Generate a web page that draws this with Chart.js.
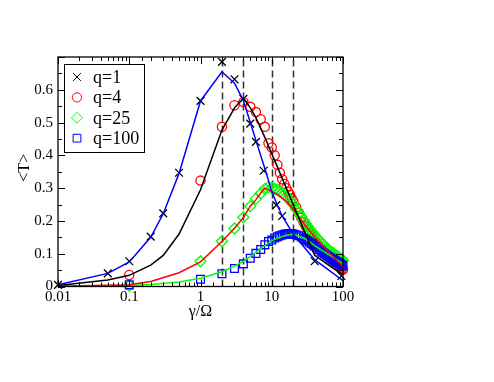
<!DOCTYPE html>
<html>
<head>
<meta charset="utf-8">
<script src="https://cdn.jsdelivr.net/npm/chart.js@4.4.1/dist/chart.umd.min.js"></script>
<style>
  html, body { margin: 0; padding: 0; background: #fff; }
  canvas { display: block; }
</style>
</head>
<body>
<canvas id="chart" width="494" height="382"></canvas>
<script>
// ---- data ----

// simulation points, q=1 (crosses)
const q1X = [0.01, 0.05, 0.1, 0.2, 0.3, 0.5, 1, 2, 3, 4, 5, 6, 7.7, 11.6, 14, 40, 95];
const q1T = [0.005, 0.04, 0.077, 0.152, 0.223, 0.347, 0.566, 0.685, 0.632, 0.572, 0.497, 0.441, 0.353, 0.248, 0.215, 0.077, 0.032];

// simulation points, q=4 / 25 / 100 share the same gamma values
const simX = [0.1,
    1, 2, 3, 4, 5, 6, 7, 8, 9, 10, 11, 12, 13, 14, 15, 16, 17, 18, 19, 20,
    22, 24, 26, 28, 30, 32, 34, 36, 38, 40,
    43, 46, 49, 52, 55, 58, 61, 64, 67, 70, 73, 76, 79, 82, 85, 88, 91, 94, 97, 100];
const q4T = [0.035,
    0.323, 0.487, 0.553, 0.563, 0.548, 0.532, 0.51, 0.487, 0.437, 0.424, 0.40, 0.371, 0.347, 0.327, 0.313, 0.30, 0.289, 0.279, 0.269, 0.26,
    0.242, 0.225, 0.21, 0.196, 0.184, 0.173, 0.164, 0.155, 0.147, 0.14,
    0.131, 0.123, 0.116, 0.11, 0.104, 0.099, 0.094, 0.09, 0.086, 0.082, 0.079, 0.076, 0.073, 0.07, 0.067, 0.064, 0.061, 0.058, 0.055, 0.052];
const q25T = [0.003,
    0.077, 0.138, 0.177, 0.211, 0.245, 0.268, 0.284, 0.298, 0.303, 0.301, 0.298, 0.295, 0.29, 0.285, 0.28, 0.275, 0.268, 0.262, 0.256, 0.25,
    0.236, 0.224, 0.213, 0.202, 0.192, 0.184, 0.176, 0.169, 0.162, 0.156,
    0.148, 0.141, 0.135, 0.129, 0.124, 0.119, 0.115, 0.111, 0.107, 0.104, 0.101, 0.098, 0.095, 0.093, 0.09, 0.088, 0.086, 0.084, 0.082, 0.08];
const q100T = [0.005,
    0.022, 0.039, 0.055, 0.069, 0.086, 0.101, 0.113, 0.127, 0.137, 0.142, 0.148, 0.152, 0.155, 0.157, 0.159, 0.16, 0.161, 0.161, 0.161, 0.16,
    0.158, 0.155, 0.151, 0.147, 0.143, 0.139, 0.135, 0.131, 0.127, 0.123,
    0.118, 0.113, 0.108, 0.104, 0.1, 0.096, 0.093, 0.09, 0.087, 0.084, 0.082, 0.079, 0.077, 0.075, 0.073, 0.071, 0.069, 0.067, 0.065, 0.063];

// theory curves
const blueX = [0.01, 0.05, 0.1, 0.2, 0.3, 0.5, 1, 2, 3, 4, 5, 6, 8, 10, 12, 14, 20, 40, 100];
const blueT = [0.005, 0.04, 0.075, 0.15, 0.222, 0.345, 0.566, 0.655, 0.62, 0.567, 0.5, 0.445, 0.36, 0.29, 0.248, 0.215, 0.16, 0.082, 0.018];
const blackX = [0.01, 0.05, 0.1, 0.2, 0.3, 0.5, 1, 2, 3, 4, 5, 6, 8, 10, 12, 14, 16, 20, 25, 40, 100];
const blackT = [0.003, 0.02, 0.034, 0.065, 0.095, 0.16, 0.295, 0.477, 0.545, 0.575, 0.545, 0.515, 0.455, 0.405, 0.365, 0.33, 0.30, 0.25, 0.2, 0.095, 0.035];
const redX = [0.01, 0.1, 0.2, 0.5, 1, 2, 3, 4, 5, 6, 7, 8, 10, 12, 16, 20, 30, 40, 60, 100];
const redT = [0.0005, 0.005, 0.015, 0.042, 0.075, 0.137, 0.178, 0.21, 0.245, 0.265, 0.285, 0.30, 0.29, 0.28, 0.26, 0.235, 0.185, 0.15, 0.11, 0.06];
const greenX = [0.01, 0.1, 0.2, 0.5, 1, 2, 3, 4, 6, 8, 10, 15, 20, 30, 40, 60, 100];
const greenT = [0.0003, 0.003, 0.006, 0.014, 0.025, 0.045, 0.062, 0.077, 0.105, 0.125, 0.14, 0.155, 0.16, 0.145, 0.125, 0.1, 0.07];

// dashed reference lines
const markGammas = [2, 4, 10, 20];

const legendItems = [
    { label: 'q=1', style: 'crossRot', color: '#000000', radius: 5.5 },
    { label: 'q=4', style: 'circle', color: '#ff0000', radius: 4.6 },
    { label: 'q=25', style: 'rectRot', color: '#00ff00', radius: 5.5 },
    { label: 'q=100', style: 'rect', color: '#0000ff', radius: 5.5 }
];

const FONT = '"Liberation Serif", "Times New Roman", serif';

const pts = (xs, ys) => xs.map((x, i) => ({ x: x, y: ys[i] }));

const lineSet = (xs, ys, color) => ({
    data: pts(xs, ys),
    showLine: true,
    borderColor: color,
    borderWidth: 1.5,
    pointRadius: 0,
    fill: false,
    order: 0
});

const markerSet = (xs, ys, item, order) => ({
    data: pts(xs, ys),
    showLine: false,
    pointStyle: item.style,
    pointRadius: item.radius,
    pointBorderColor: item.color,
    pointBackgroundColor: 'rgba(0,0,0,0)',
    pointBorderWidth: 1.3,
    clip: false,
    order: order
});

const isDecade = v => Math.abs(Math.log10(v) - Math.round(Math.log10(v))) < 1e-6;

// frame, inward ticks, dashed lines, legend, axis titles
const decorPlugin = {
    id: 'decor',
    beforeDatasetsDraw(chart) {
        const ctx = chart.ctx;
        const a = chart.chartArea;
        const xs = chart.scales.x;
        ctx.save();
        ctx.strokeStyle = '#333';
        ctx.lineWidth = 1.5;
        ctx.setLineDash([7, 4]);
        markGammas.forEach(g => {
            const px = Math.round(xs.getPixelForValue(g)) + 0.5;
            ctx.beginPath();
            ctx.moveTo(px, a.bottom);
            ctx.lineTo(px, a.top);
            ctx.stroke();
        });
        ctx.restore();
    },
    afterDraw(chart) {
        const ctx = chart.ctx;
        const a = chart.chartArea;
        const xs = chart.scales.x;
        const ys = chart.scales.y;
        ctx.save();
        ctx.strokeStyle = '#000';
        ctx.lineWidth = 1;
        ctx.setLineDash([]);

        // x ticks bottom and top
        xs.ticks.forEach(t => {
            const px = Math.round(xs.getPixelForValue(t.value)) + 0.5;
            const len = isDecade(t.value) ? 7 : 4;
            ctx.beginPath();
            ctx.moveTo(px, a.bottom);
            ctx.lineTo(px, a.bottom - len);
            ctx.moveTo(px, a.top);
            ctx.lineTo(px, a.top + len);
            ctx.stroke();
        });
        // y ticks left and right
        ys.ticks.forEach(t => {
            const py = Math.round(ys.getPixelForValue(t.value)) + 0.5;
            const major = Math.round(t.value * 100) % 10 === 0;
            const len = major ? 7 : 4;
            ctx.beginPath();
            ctx.moveTo(a.left, py);
            ctx.lineTo(a.left + len, py);
            ctx.moveTo(a.right, py);
            ctx.lineTo(a.right - len, py);
            ctx.stroke();
        });

        // frame
        ctx.lineWidth = 1.3;
        ctx.strokeRect(a.left, a.top, a.right - a.left, a.bottom - a.top);

        // legend box
        const bx = 64, by = 64, bw = 80, bh = 88;
        ctx.fillStyle = '#fff';
        ctx.fillRect(bx, by, bw, bh);
        ctx.lineWidth = 1;
        ctx.strokeStyle = '#000';
        ctx.strokeRect(bx + 0.5, by + 0.5, bw, bh);
        ctx.font = '18px ' + FONT;
        ctx.textBaseline = 'middle';
        ctx.textAlign = 'left';
        legendItems.forEach((item, i) => {
            const cy = 77 + i * 20.4;
            ctx.strokeStyle = item.color;
            ctx.fillStyle = 'rgba(0,0,0,0)';
            Chart.helpers.drawPoint(ctx, {
                pointStyle: item.style,
                radius: item.radius,
                borderWidth: 1.3,
                rotation: 0
            }, 77, cy);
            ctx.fillStyle = '#000';
            ctx.fillText(item.label, 93, cy + 1);
        });

        // axis titles
        ctx.fillStyle = '#000';
        ctx.font = '16px ' + FONT;
        ctx.textAlign = 'center';
        ctx.textBaseline = 'middle';
        ctx.fillText('\u03b3/\u03a9', (a.left + a.right) / 2, 312);
        ctx.save();
        ctx.translate(25, (a.top + a.bottom) / 2 - 4);
        ctx.rotate(-Math.PI / 2);
        ctx.fillText('<T>', 0, 0);
        ctx.restore();
        ctx.restore();
    }
};

new Chart(document.getElementById('chart').getContext('2d'), {
    type: 'scatter',
    data: {
        datasets: [
            lineSet(blueX, blueT, '#0000ff'),
            lineSet(blackX, blackT, '#000000'),
            lineSet(redX, redT, '#ff0000'),
            lineSet(greenX, greenT, '#00ff00'),
            markerSet(simX, q100T, legendItems[3], 1),
            markerSet(simX, q25T, legendItems[2], 2),
            markerSet(simX, q4T, legendItems[1], 3),
            markerSet(q1X, q1T, legendItems[0], 4)
        ]
    },
    options: {
        responsive: false,
        animation: false,
        devicePixelRatio: 1,
        layout: { padding: { left: 0, top: 57, right: 151, bottom: 57.5 } },
        plugins: {
            legend: { display: false },
            tooltip: { enabled: false }
        },
        scales: {
            x: {
                type: 'logarithmic',
                min: 0.01,
                max: 100,
                grid: { display: false, drawTicks: false },
                border: { display: false },
                afterFit: scale => { scale.height = 38; },
                ticks: {
                    color: '#000',
                    font: { family: FONT, size: 15 },
                    padding: 2,
                    maxRotation: 0,
                    autoSkip: false,
                    callback: v => isDecade(v) ? String(+v.toPrecision(3)) : ''
                }
            },
            y: {
                min: 0,
                max: 0.7,
                grid: { display: false, drawTicks: false },
                border: { display: false },
                afterFit: scale => { scale.width = 58; },
                ticks: {
                    stepSize: 0.05,
                    color: '#000',
                    font: { family: FONT, size: 15 },
                    padding: 5,
                    autoSkip: false,
                    callback: v => {
                        if (Math.round(v * 100) % 10 !== 0 || v > 0.65) {
                            return '';
                        }
                        return v === 0 ? '0' : v.toFixed(1);
                    }
                }
            }
        }
    },
    plugins: [decorPlugin]
});
</script>
</body>
</html>
